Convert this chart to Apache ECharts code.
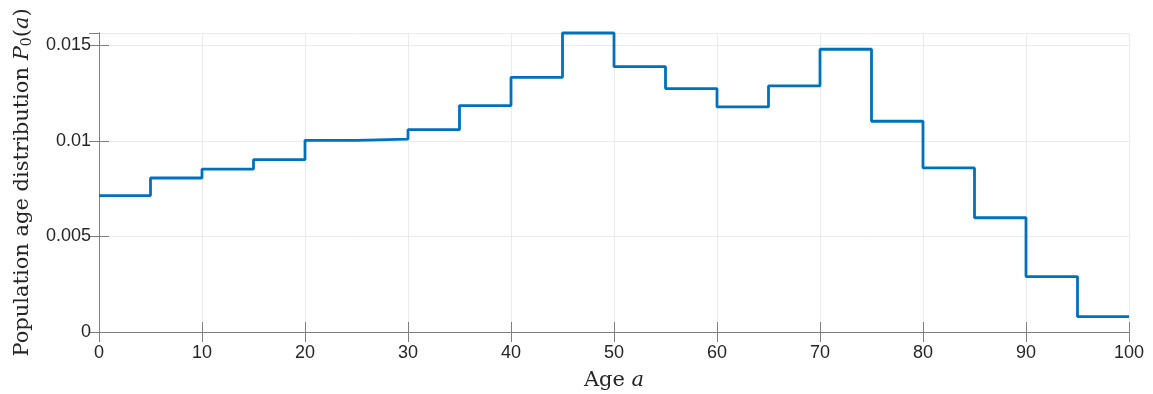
<!DOCTYPE html>
<html>
<head>
<meta charset="utf-8">
<script src="https://cdn.jsdelivr.net/npm/echarts@6/dist/echarts.min.js"></script>
<style>html,body{margin:0;padding:0;background:#fff;}#c{width:1153px;height:394px;}</style>
</head>
<body>
<div id="c"></div>
<script>
// Age group boundaries (left edge of each 5-year bin) and values
const ageStarts = [0,5,10,15,20,25,30,35,40,45,50,55,60,65,70,75,80,85,90,95];
const binWidth = 5;
const popValues = [0.00714,0.00806,0.00853,0.00902,0.01003,0.01010,0.01059,0.01185,0.01333,0.01565,
                   0.01389,0.01274,0.01178,0.01288,0.01480,0.01103,0.00859,0.00598,0.00290,0.00080];
const xTicks = [0,10,20,30,40,50,60,70,80,90,100];
const yTickLabels = ['0','0.005','0.01','0.015'];

// build explicit step points (left and right edge of each bin)
const stepData = [];
ageStarts.forEach((a, i) => {
  stepData.push([a, popValues[i]]);
  stepData.push([a + binWidth, popValues[i]]);
});

const axisColor = '#808080';
const gridColor = '#ebebeb';
const tickFont = {fontFamily: 'Arial, "Liberation Sans", sans-serif', fontSize: 18, color: '#262626'};
const serif = '"DejaVu Serif", "Liberation Serif", serif';
const nameSize = 21;

const chart = echarts.init(document.getElementById('c'), null, {renderer: 'canvas'});
chart.setOption({
  animation: false,
  grid: {left: 99, right: 24, top: 33, bottom: 62, containLabel: false, outerBoundsMode: 'none'},
  xAxis: [{
    type: 'value', min: 0, max: 100, interval: 10,
    axisLine: {show: true, onZero: false, lineStyle: {color: axisColor, width: 1}},
    axisTick: {show: true, inside: true, length: 10, lineStyle: {color: axisColor}},
    axisLabel: {...tickFont, margin: 12, formatter: v => xTicks.includes(v) ? String(v) : ''},
    splitLine: {show: true, lineStyle: {color: gridColor, width: 1}},
    name: '{n|Age }{i|a}', nameLocation: 'middle', nameGap: 38,
    nameTextStyle: {rich: {n: {fontFamily: serif, fontSize: nameSize, color: '#262626'}, i: {fontFamily: serif, fontStyle: 'italic', fontSize: nameSize, color: '#262626'}}}
  }, {
    type: 'value', position: 'top', min: 0, max: 100, interval: 10,
    axisLine: {show: true, lineStyle: {color: axisColor}},
    axisTick: {show: true, inside: true, length: 10, lineStyle: {color: axisColor}},
    axisLabel: {show: false}, splitLine: {show: false}
  }],
  yAxis: [{
    type: 'value', min: 0, max: 0.01565, interval: 0.005,
    axisLine: {show: true, onZero: false, lineStyle: {color: axisColor, width: 1}},
    axisTick: {show: true, inside: true, length: 10, lineStyle: {color: axisColor}},
    axisLabel: {...tickFont, margin: 8, showMaxLabel: false,
      formatter: v => { const idx = Math.round(v / 0.005); return Math.abs(v - idx*0.005) < 1e-9 ? yTickLabels[idx] || '' : ''; }},
    splitLine: {show: true, lineStyle: {color: gridColor, width: 1}},
    name: '{n|Population age distribution }{i|P}{s|0}{n|(}{i|a}{n|)}', nameLocation: 'middle', nameGap: 65,
    nameTextStyle: {rich: {
      n: {fontFamily: serif, fontSize: nameSize, color: '#262626'},
      i: {fontFamily: serif, fontStyle: 'italic', fontSize: nameSize, color: '#262626'},
      s: {fontFamily: serif, fontSize: 14, color: '#262626', verticalAlign: 'bottom', padding: [9,0,0,0]}
    }}
  }, {
    type: 'value', position: 'right', min: 0, max: 0.01565, interval: 0.005,
    axisLine: {show: true, lineStyle: {color: axisColor}},
    axisTick: {show: true, inside: true, length: 10, lineStyle: {color: axisColor}},
    axisLabel: {show: false}, splitLine: {show: false}
  }],
  series: [{
    type: 'line', data: stepData, showSymbol: false, symbol: 'none',
    lineStyle: {color: '#0072BD', width: 2.8}, clip: false
  }]
});
</script>
</body>
</html>
